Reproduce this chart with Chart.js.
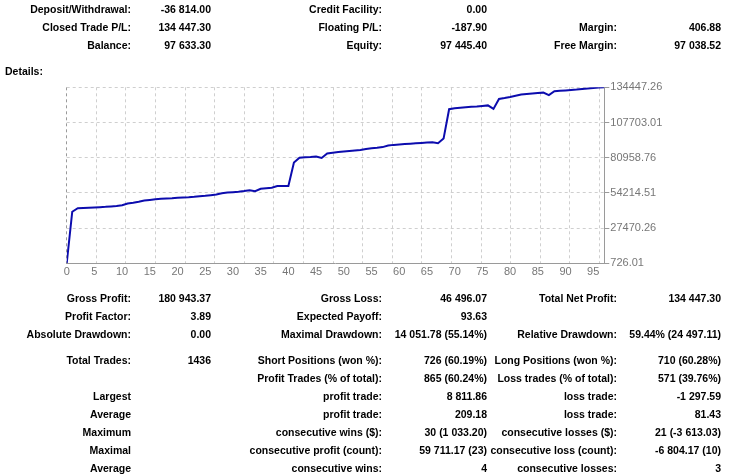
<!DOCTYPE html>
<html><head><meta charset="utf-8">
<script src="https://cdn.jsdelivr.net/npm/chart.js@4.4.1/dist/chart.umd.min.js"></script>
<style>
html,body{margin:0;padding:0;background:#fff;width:735px;height:476px;overflow:hidden;}
#wrap{position:relative;width:735px;height:476px;}
canvas{position:absolute;left:0;top:0;}
.t{position:absolute;font:bold 10.5px "Liberation Sans",Arial,sans-serif;color:#000;white-space:nowrap;line-height:14px;height:14px;text-align:right;}
</style></head><body>
<div id="wrap"><canvas id="c" width="735" height="476"></canvas></div>
<script>
// ---- data ----
const tradeIndex = [0,1,2,3,4,5,6,7,8,9,10,11,12,13,14,15,16,17,18,19,20,21,22,23,24,25,26,27,28,29,30,31,32,33,34,35,36,37,38,39,40,41,42,43,44,45,46,47,48,49,50,51,52,53,54,55,56,57,58,59,60,61,62,63,64,65,66,67,68,69,70,71,72,73,74,75,76,77,78,79,80,81,82,83,84,85,86,87,88,89,90,91,92,93,94,95,96,97];
const balance = [726.01,39900,42600,42800,43000,43200,43400,43600,43900,44200,
  44800,46200,46800,47500,48400,48900,49400,49800,50000,50200,
  50500,50700,50900,51200,51600,52000,52500,53000,54000,54500,
  54800,55100,55600,56300,55500,57300,57700,58100,59400,59500,
  59500,77300,80900,81300,81500,81900,80800,84200,84700,85200,
  85700,86100,86500,86800,87500,88200,88500,89000,90200,90700,
  91000,91300,91600,91900,92200,92500,92700,92000,95500,117800,
  118600,119000,119300,119600,119900,120300,120700,118000,125600,126300,
  127100,128000,128900,129400,129800,130200,130400,128500,131500,131800,
  132100,132400,132700,133100,133500,133900,134200,134447.26];
const xTickLabels = [0,5,10,15,20,25,30,35,40,45,50,55,60,65,70,75,80,85,90,95];
const yTickValues = [726.01,27470.26,54214.51,80958.76,107703.01,134447.26];

const summaryLabels1 = ["Deposit/Withdrawal:","Closed Trade P/L:","Balance:"];
const summaryValues1 = ["-36 814.00","134 447.30","97 633.30"];
const summaryLabels2 = ["Credit Facility:","Floating P/L:","Equity:"];
const summaryValues2 = ["0.00","-187.90","97 445.40"];
const summaryLabels3 = ["","Margin:","Free Margin:"];
const summaryValues3 = ["","406.88","97 038.52"];

const detailLabels1 = ["Gross Profit:","Profit Factor:","Absolute Drawdown:","Total Trades:","","Largest","Average","Maximum","Maximal","Average"];
const detailValues1 = ["180 943.37","3.89","0.00","1436","","","","","",""];
const detailLabels2 = ["Gross Loss:","Expected Payoff:","Maximal Drawdown:","Short Positions (won %):","Profit Trades (% of total):","profit trade:","profit trade:","consecutive wins ($):","consecutive profit (count):","consecutive wins:"];
const detailValues2 = ["46 496.07","93.63","14 051.78 (55.14%)","726 (60.19%)","865 (60.24%)","8 811.86","209.18","30 (1 033.20)","59 711.17 (23)","4"];
const detailLabels3 = ["Total Net Profit:","","Relative Drawdown:","Long Positions (won %):","Loss trades (% of total):","loss trade:","loss trade:","consecutive losses ($):","consecutive loss (count):","consecutive losses:"];
const detailValues3 = ["134 447.30","","59.44% (24 497.11)","710 (60.28%)","571 (39.76%)","-1 297.59","81.43","21 (-3 613.03)","-6 804.17 (10)","3"];

// ---- text layout ----
const wrap = document.getElementById('wrap');
const colRight = [131, 211, 382, 487, 617, 721];
function put(text, right, yc){
  if(!text) return;
  const d = document.createElement('div');
  d.className = 't';
  d.textContent = text;
  d.style.right = (735 - right) + 'px';
  d.style.top = (yc - 7) + 'px';
  wrap.appendChild(d);
}
const sumY = [8.5, 26.5, 44.5];
sumY.forEach((y,i)=>{
  put(summaryLabels1[i], colRight[0], y); put(summaryValues1[i], colRight[1], y);
  put(summaryLabels2[i], colRight[2], y); put(summaryValues2[i], colRight[3], y);
  put(summaryLabels3[i], colRight[4], y); put(summaryValues3[i], colRight[5], y);
});
const det = document.createElement('div');
det.className='t'; det.textContent='Details:'; det.style.left='5px'; det.style.top=(71-7)+'px'; det.style.textAlign='left';
wrap.appendChild(det);
const detY = [297.5,315.5,333.5,359.5,377.5,395.5,413.5,431.5,449.5,467.5];
detY.forEach((y,i)=>{
  put(detailLabels1[i], colRight[0], y); put(detailValues1[i], colRight[1], y);
  put(detailLabels2[i], colRight[2], y); put(detailValues2[i], colRight[3], y);
  put(detailLabels3[i], colRight[4], y); put(detailValues3[i], colRight[5], y);
});

// ---- chart ----
const gridStep = 5.34;
const tickFont = {family:'Liberation Sans', size:11};
new Chart(document.getElementById('c').getContext('2d'), {
  type:'line',
  data:{datasets:[{
    data: tradeIndex.map((x,i)=>({x:x, y:balance[i]})),
    borderColor:'#0c0cae', borderWidth:2, pointRadius:0, tension:0, fill:false
  }]},
  options:{
    responsive:false, animation:false, events:[],
    plugins:{legend:{display:false}, tooltip:{enabled:false}},
    layout:{padding:{left:66.7, top:87.3, right:735-604.3-60, bottom:476-263.3-20}},
    scales:{
      x:{type:'linear', min:0, max:97, position:'bottom',
        afterBuildTicks:s=>{ s.ticks = xTickLabels.map(v=>({value:v})); },
        afterFit:s=>{ s.height = 20; },
        grid:{display:false, drawTicks:false},
        border:{display:true, color:'#9a9a9a', width:1},
        ticks:{color:'#777', font:tickFont, padding:2, maxRotation:0, autoSkip:false, callback:v=>String(v)}
      },
      xg:{type:'linear', axis:'x', min:0, max:97, position:'bottom',
        afterBuildTicks:s=>{ const t=[]; for(let k=0;k*gridStep<=97;k++) t.push({value:k*gridStep}); s.ticks=t; },
        afterFit:s=>{ s.height = 0; },
        ticks:{display:false},
        border:{display:false, dash:[3,3]},
        grid:{drawTicks:false, color:c=> c.index===0 ? '#9a9a9a' : '#cfcfcf', lineWidth:1}
      },
      y:{type:'linear', position:'right', min:726.01, max:134447.26,
        afterBuildTicks:s=>{ s.ticks = yTickValues.map(v=>({value:v})); },
        afterFit:s=>{ s.width = 60; },
        grid:{color:c=> c.index===0 ? 'rgba(0,0,0,0)' : '#cfcfcf', tickColor:'#9a9a9a', tickLength:5, tickBorderDash:[], drawTicks:true},
        border:{display:true, color:'#9a9a9a', width:1, dash:[3,3]},
        ticks:{color:'#777', font:tickFont, padding:1, callback:v=>Number(v).toFixed(2)}
      }
    }
  }
});
</script>
</body></html>
